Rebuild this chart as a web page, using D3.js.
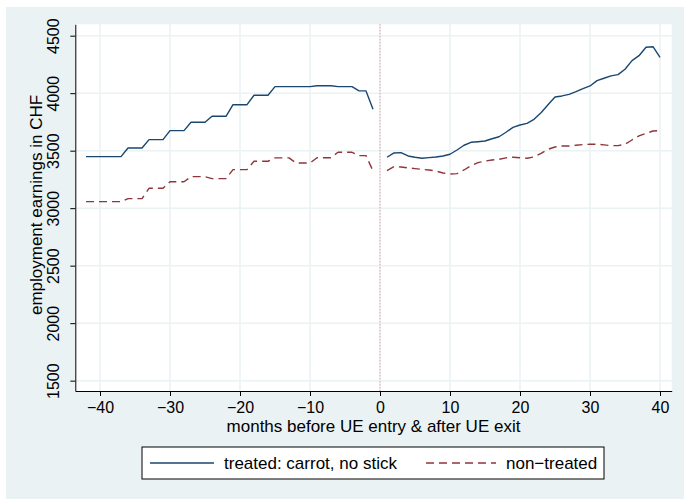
<!DOCTYPE html>
<head>
 <meta charset="utf-8">
 <script src="https://cdn.jsdelivr.net/npm/d3@7"></script>
 <title>employment earnings</title>
</head>

<style>
body{
  margin: 0;
  background-color: white;
}
text{
  font-family: "Liberation Sans", Arial, sans-serif;
  fill: #000;
}
</style>

<body>
 <div id="chart"></div>
</body>

<script type="text/javascript">
 // months before UE entry (negative) and after UE exit (positive)
 var monthsPre = [-42,-41,-40,-39,-38,-37,-36,-35,-34,-33,-32,-31,-30,-29,-28,-27,-26,-25,-24,-23,-22,
                  -21,-20,-19,-18,-17,-16,-15,-14,-13,-12,-11,-10,-9,-8,-7,-6,-5,-4,-3,-2,-1];
 var monthsPost = [1,2,3,4,5,6,7,8,9,10,11,12,13,14,15,16,17,18,19,20,
                   21,22,23,24,25,26,27,28,29,30,31,32,33,34,35,36,37,38,39,40];

 var treatedPre = [3448,3448,3448,3448,3448,3448,3523,3523,3523,3596,3596,3596,3674,3674,3674,3747,3747,3747,
                   3799,3799,3799,3900,3900,3900,3982,3982,3982,4057,4057,4057,4057,4057,4057,4065,4065,4065,
                   4057,4057,4057,4020,4020,3860];
 var treatedPost = [3443,3480,3483,3454,3443,3434,3440,3445,3454,3469,3506,3547,3573,3578,3584,3604,3621,3660,3703,3723,
                    3738,3773,3830,3900,3967,3976,3990,4013,4039,4063,4109,4130,4150,4161,4208,4283,4326,4399,4404,4312];

 var controlPre = [3057,3057,3057,3057,3057,3057,3083,3083,3083,3173,3173,3173,3230,3230,3230,3274,3274,3274,
                   3257,3257,3257,3335,3335,3335,3408,3408,3408,3437,3437,3437,3393,3393,3393,3439,3439,3439,
                   3486,3486,3486,3457,3457,3323];
 var controlPost = [3326,3361,3358,3350,3344,3338,3332,3323,3306,3297,3300,3332,3370,3396,3410,3419,3425,3437,3443,3439,
                    3434,3445,3477,3512,3532,3541,3541,3547,3553,3556,3556,3550,3544,3544,3556,3593,3628,3651,3671,3674];

 var xTicks = [-40,-30,-20,-10,0,10,20,30,40];
 var yTicks = [1500,2000,2500,3000,3500,4000,4500];
 var legendLabels = ["treated: carrot, no stick", "non\u2212treated"];

 var props = {
   width: 684,
   height: 499,
   left: 75.3,
   right: 671.7,
   top: 24.3,
   bottom: 391,
   bg: "#eaf2f3",
   blue: "#1a476f",
   red: "#90353b"
 }

 var svg = d3.select("#chart").append("svg")
   .attr("width", props.width).attr("height", props.height);

 // outer graph region
 svg.append("rect").attr("x", 6).attr("y", 7)
   .attr("width", props.width - 6).attr("height", props.height - 7)
   .attr("fill", props.bg);

 var x = d3.scaleLinear().domain([-43.53, 41.67]).range([props.left, props.right]);
 var y = d3.scaleLinear().domain([1410, 4599]).range([props.bottom, props.top]);

 // plot region
 svg.append("rect").attr("x", props.left).attr("y", props.top)
   .attr("width", props.right - props.left).attr("height", props.bottom - props.top)
   .attr("fill", "white");

 // grid
 svg.append("g").selectAll("line").data(yTicks).enter().append("line")
   .attr("x1", props.left).attr("x2", props.right)
   .attr("y1", function(d){ return y(d); }).attr("y2", function(d){ return y(d); })
   .attr("stroke", props.bg).attr("stroke-width", 1.5);
 svg.append("g").selectAll("line").data(xTicks).enter().append("line")
   .attr("y1", props.top).attr("y2", props.bottom)
   .attr("x1", function(d){ return x(d); }).attr("x2", function(d){ return x(d); })
   .attr("stroke", props.bg).attr("stroke-width", 1.5);

 // line at 0
 svg.append("line")
   .attr("x1", x(0)).attr("x2", x(0)).attr("y1", props.top).attr("y2", props.bottom)
   .attr("stroke", "#e0607a").attr("stroke-width", 1).attr("stroke-dasharray", "1,2")
   .attr("opacity", 0.8);

 function series(months, vals){
   return months.map(function(m, i){ return [m, vals[i]]; });
 }
 var line = d3.line().x(function(d){ return x(d[0]); }).y(function(d){ return y(d[1]); });

 var lines = [
   {data: series(monthsPre, treatedPre), color: props.blue, dash: null},
   {data: series(monthsPost, treatedPost), color: props.blue, dash: null},
   {data: series(monthsPre, controlPre), color: props.red, dash: "8,5"},
   {data: series(monthsPost, controlPost), color: props.red, dash: "8,5"}
 ];
 lines.forEach(function(l){
   svg.append("path").attr("d", line(l.data))
     .attr("fill", "none").attr("stroke", l.color).attr("stroke-width", 1.4)
     .attr("stroke-linejoin", "round")
     .attr("stroke-dasharray", l.dash);
 });

 // axes
 var xAxis = svg.append("g").attr("transform", "translate(0," + props.bottom + ")")
   .call(d3.axisBottom(x).tickValues(xTicks).tickSize(5).tickSizeOuter(0).tickPadding(5));
 xAxis.selectAll("text").attr("font-size", "16px").attr("font-family", null).attr("dy", null).attr("y", 22.3);
 xAxis.select(".domain").attr("stroke", "#000");
 xAxis.selectAll(".tick line").attr("stroke", "#000");

 var yAxis = svg.append("g").attr("transform", "translate(" + props.left + ",0)")
   .call(d3.axisLeft(y).tickValues(yTicks).tickFormat(d3.format("d")).tickSize(5).tickSizeOuter(0));
 yAxis.selectAll("text")
   .attr("font-size", "16px").attr("font-family", null)
   .attr("x", null).attr("dy", null)
   .attr("text-anchor", "middle")
   .attr("transform", "translate(" + (59.3 - props.left) + ",0) rotate(-90)");
 yAxis.select(".domain").attr("stroke", "#000");
 yAxis.selectAll(".tick line").attr("stroke", "#000");

 // titles
 svg.append("text").attr("x", (props.left + props.right) / 2).attr("y", 432)
   .attr("text-anchor", "middle").attr("font-size", "17px")
   .text("months before UE entry & after UE exit");
 svg.append("text").attr("transform", "translate(41.7,205) rotate(-90)")
   .attr("text-anchor", "middle").attr("font-size", "17px")
   .text("employment earnings in CHF");

 // legend
 var lg = svg.append("g");
 lg.append("rect").attr("x", 142).attr("y", 447).attr("width", 462).attr("height", 32)
   .attr("fill", "white").attr("stroke", "#000").attr("stroke-width", 1);
 var items = [
   {x1: 150, x2: 214, tx: 224, color: props.blue, dash: null},
   {x1: 426, x2: 496, tx: 506, color: props.red, dash: "8,5"}
 ];
 items.forEach(function(it, i){
   lg.append("line").attr("x1", it.x1).attr("x2", it.x2).attr("y1", 463).attr("y2", 463)
     .attr("stroke", it.color).attr("stroke-width", 1.4).attr("stroke-dasharray", it.dash);
   lg.append("text").attr("x", it.tx).attr("y", 469).attr("font-size", "17px").text(legendLabels[i]);
 });
</script>
